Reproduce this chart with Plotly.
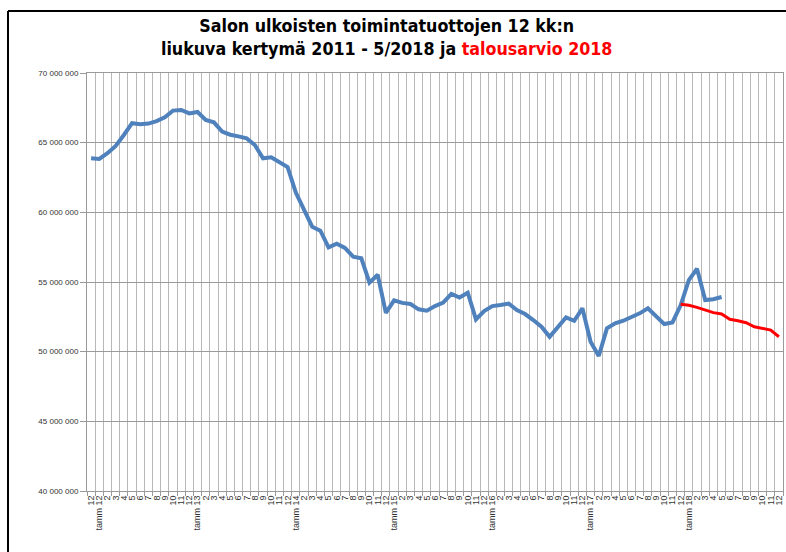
import plotly.graph_objects as go

# ---- data (values in millions of euros) ----
month_labels = ["12"]
for yr in range(12, 19):
    month_labels.append(f"tamm {yr}")
    month_labels += [str(m) for m in range(2, 13)]

actual_m = [
    63.88, 63.83, 64.24, 64.76, 65.55, 66.40, 66.32, 66.37, 66.55, 66.82,
    67.30, 67.35, 67.10, 67.20, 66.63, 66.46, 65.79, 65.57, 65.45, 65.31,
    64.83, 63.88, 63.95, 63.63, 63.25, 61.42, 60.17, 58.97, 58.68, 57.49,
    57.75, 57.45, 56.82, 56.70, 54.95, 55.52, 52.78, 53.68, 53.50, 53.42,
    53.04, 52.94, 53.27, 53.52, 54.14, 53.89, 54.23, 52.32, 52.92, 53.27,
    53.35, 53.45, 52.99, 52.70, 52.27, 51.79, 51.07, 51.79, 52.46, 52.22,
    53.11, 50.72, 49.69, 51.67, 52.03, 52.22, 52.46, 52.75, 53.11, 52.56,
    51.98, 52.10, 53.33, 55.14, 55.95, 53.70, 53.76, 53.92,
]
budget_start = 72
budget_m = [53.40, 53.33, 53.18, 52.99, 52.80, 52.70, 52.32, 52.22, 52.08,
            51.79, 51.65, 51.55, 51.07]

y_ticks = [40e6, 45e6, 50e6, 55e6, 60e6, 65e6, 70e6]

# ---- figure ----
fig = go.Figure()
fig.add_trace(go.Scatter(
    x=list(range(len(actual_m))), y=[v * 1e6 for v in actual_m],
    mode="lines", line=dict(color="#4F81BD", width=4), showlegend=False,
))
fig.add_trace(go.Scatter(
    x=list(range(budget_start, budget_start + len(budget_m))),
    y=[v * 1e6 for v in budget_m],
    mode="lines", line=dict(color="#FF0000", width=3), showlegend=False,
))

n = len(month_labels)
W, H = 786, 552
L, R, T, B = 87, 3, 73, 61
pw, ph = W - L - R, H - T - B

def px_x(x):
    return (x - L) / pw

def px_y(y):
    return (H - B - y) / ph

fig.update_layout(
    width=W, height=H,
    margin=dict(l=L, r=R, t=T, b=B, autoexpand=False),
    paper_bgcolor="white", plot_bgcolor="white",
    separators=", ",
    font=dict(family="Liberation Sans, Arial, sans-serif", color="#333333"),
    title=dict(
        text="Salon ulkoisten toimintatuottojen 12 kk:n<br>liukuva kertymä 2011 - 5/2018 ja "
             "<span style='color:#FF0000'>talousarvio 2018</span>",
        x=0.492, xanchor="center", y=1 - 32 / H, yanchor="middle",
        font=dict(family="Liberation Sans Narrow, Arial Narrow, DejaVu Sans Condensed, sans-serif",
                  size=17.7, color="black", weight="bold"),
        automargin=False,
    ),
    xaxis=dict(
        range=[-0.5, n - 0.5], tickmode="array",
        tickvals=list(range(n)), ticktext=month_labels,
        tickangle=-90, tickfont=dict(size=9, color="#333333"),
        showgrid=False, ticks="", zeroline=False, automargin=False,
        showline=True, linecolor="#9a9a9a", mirror=True,
        minor=dict(tickmode="linear", tick0=-0.5, dtick=1, showgrid=True,
                   gridcolor="#b8b8b8", gridwidth=1, ticks="outside",
                   ticklen=4, tickcolor="#9a9a9a"),
        fixedrange=True,
    ),
    yaxis=dict(
        range=[40e6, 70e6], tickmode="array", tickvals=y_ticks,
        tickformat=",d", tickfont=dict(size=8, color="#333333"),
        showgrid=True, gridcolor="#9a9a9a", gridwidth=1, automargin=False,
        ticks="outside", ticklen=6, tickcolor="#9a9a9a",
        showline=True, linecolor="#9a9a9a", mirror=True, zeroline=False,
        fixedrange=True,
    ),
    shapes=[
        dict(type="line", xref="paper", yref="paper",
             x0=px_x(8), x1=px_x(8), y0=px_y(11), y1=px_y(560),
             line=dict(color="black", width=2)),
        dict(type="line", xref="paper", yref="paper",
             x0=px_x(8), x1=px_x(800), y0=px_y(11), y1=px_y(11),
             line=dict(color="black", width=2)),
    ],
)

fig.write_html("out.html", config={"displayModeBar": False},
               post_script="document.body.style.margin='0';")
